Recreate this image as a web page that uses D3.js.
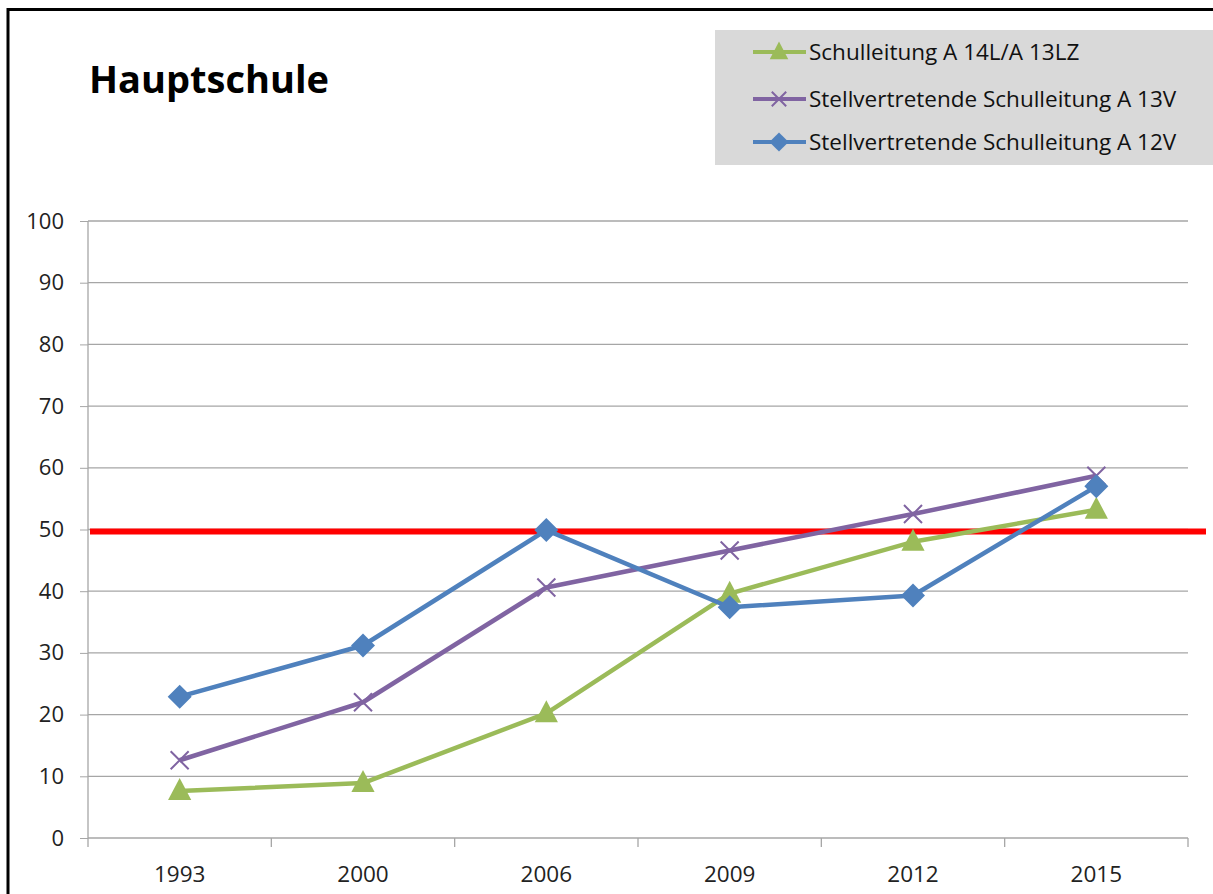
<!DOCTYPE html>
<html>
<head>
<meta charset="utf-8">
<script src="https://cdn.jsdelivr.net/npm/d3@7"></script>
<style>
  body { margin: 0; background: #fff; }
  svg { display: block; }
  svg text { font-family: "Open Sans", sans-serif; }
</style>
</head>
<body>
<div id="chart"></div>
<script>
const years = ["1993", "2000", "2006", "2009", "2012", "2015"];
const schulleitung = [7.6, 8.9, 20.2, 39.6, 48.0, 53.2];
const stellv13 = [12.6, 22.0, 40.6, 46.6, 52.5, 58.7];
const stellv12 = [22.9, 31.2, 49.9, 37.4, 39.3, 57.0];
const yTicks = [0, 10, 20, 30, 40, 50, 60, 70, 80, 90, 100];
const threshold = 50;

const series = [
  { name: "Schulleitung A 14L/A 13LZ", values: schulleitung, color: "#9bbb59", marker: "triangle" },
  { name: "Stellvertretende Schulleitung A 13V", values: stellv13, color: "#8064a2", marker: "x" },
  { name: "Stellvertretende Schulleitung A 12V", values: stellv12, color: "#4f81bd", marker: "diamond" }
];

var width = 1213,
    height = 894;

const svg = d3.select("#chart")
  .append("svg")
    .attr("width", width)
    .attr("height", height);

// frame
svg.append("path")
  .attr("d", "M8,894 V9.5 H1213")
  .attr("fill", "none")
  .attr("stroke", "#000")
  .attr("stroke-width", 3);

const x = d3.scalePoint().domain(years).range([88, 1188]).padding(0.5);
const y = d3.scaleLinear().domain([0, 100]).range([838, 221]);

// grid + y ticks
const yAxis = svg.append("g")
  .attr("transform", "translate(88,0)")
  .call(d3.axisLeft(y).tickValues(yTicks).tickSize(8).tickPadding(16));
yAxis.attr("font-family", null);
yAxis.select(".domain").remove();
yAxis.selectAll(".tick line").attr("stroke", "#a6a6a6");
yAxis.selectAll(".tick text")
  .attr("font-size", 22).attr("fill", "#222");

svg.append("g").selectAll("line")
  .data(yTicks)
  .join("line")
    .attr("x1", 88).attr("x2", 1188)
    .attr("y1", d => y(d)).attr("y2", d => y(d))
    .attr("stroke", "#a6a6a6").attr("stroke-width", 1.3);

// y axis line
svg.append("line")
  .attr("x1", 88).attr("x2", 88)
  .attr("y1", y(100)).attr("y2", y(0) + 9)
  .attr("stroke", "#a6a6a6").attr("stroke-width", 1.3);

// x ticks at category boundaries
const step = x.step();
const bounds = years.map(d => x(d) + step / 2);
svg.append("g").selectAll("line")
  .data(bounds)
  .join("line")
    .attr("x1", d => d).attr("x2", d => d)
    .attr("y1", y(0)).attr("y2", y(0) + 9)
    .attr("stroke", "#a6a6a6").attr("stroke-width", 1.3);

svg.append("g").selectAll("text")
  .data(years)
  .join("text")
    .attr("x", d => x(d))
    .attr("y", 882)
    .attr("text-anchor", "middle")
    .attr("font-size", 22.5)
    .attr("fill", "#222")
    .text(d => d);

// threshold line
svg.append("line")
  .attr("x1", 90).attr("x2", 1206)
  .attr("y1", y(threshold) + 2).attr("y2", y(threshold) + 2)
  .attr("stroke", "#ff0000").attr("stroke-width", 6);

const line = d3.line()
  .x((d, i) => x(years[i]))
  .y(d => y(d));

function drawMarker(g, type, color, cx, cy, s) {
  if (type === "triangle") {
    g.append("path")
      .attr("d", `M${cx},${cy - s * 0.65} L${cx + s * 0.58},${cy + s * 0.45} L${cx - s * 0.58},${cy + s * 0.45} Z`)
      .attr("fill", color);
  } else if (type === "diamond") {
    g.append("path")
      .attr("d", `M${cx},${cy - s * 0.6} L${cx + s * 0.6},${cy} L${cx},${cy + s * 0.6} L${cx - s * 0.6},${cy} Z`)
      .attr("fill", color);
  } else {
    const r = s * 0.45;
    g.append("path")
      .attr("d", `M${cx - r},${cy - r} L${cx + r},${cy + r} M${cx + r},${cy - r} L${cx - r},${cy + r}`)
      .attr("stroke", color).attr("stroke-width", 2).attr("fill", "none");
  }
}

// draw in order: green, purple, blue on top
series.forEach(s => {
  const g = svg.append("g");
  g.append("path")
    .datum(s.values)
    .attr("d", line)
    .attr("fill", "none")
    .attr("stroke", s.color)
    .attr("stroke-width", 4.5)
    .attr("stroke-linejoin", "round");
  s.values.forEach((v, i) => drawMarker(g, s.marker, s.color, x(years[i]), y(v), 20));
});

// title
svg.append("text")
  .attr("x", 89).attr("y", 93)
  .attr("font-size", 38)
  .attr("font-weight", "bold")
  .attr("fill", "#000")
  .text("Hauptschule");

// legend
const legend = svg.append("g");
legend.append("rect")
  .attr("x", 715).attr("y", 30)
  .attr("width", 498).attr("height", 135)
  .attr("fill", "#d9d9d9");

const legendY = [52, 99, 142];
series.forEach((s, i) => {
  const ly = legendY[i];
  legend.append("line")
    .attr("x1", 753).attr("x2", 806)
    .attr("y1", ly).attr("y2", ly)
    .attr("stroke", s.color).attr("stroke-width", 4);
  drawMarker(legend, s.marker, s.color, 779, ly, 16);
  legend.append("text")
    .attr("x", 809).attr("y", ly + 8)
    .attr("font-size", 22.5)
    .attr("fill", "#111")
    .text(s.name);
});
</script>
</body>
</html>
